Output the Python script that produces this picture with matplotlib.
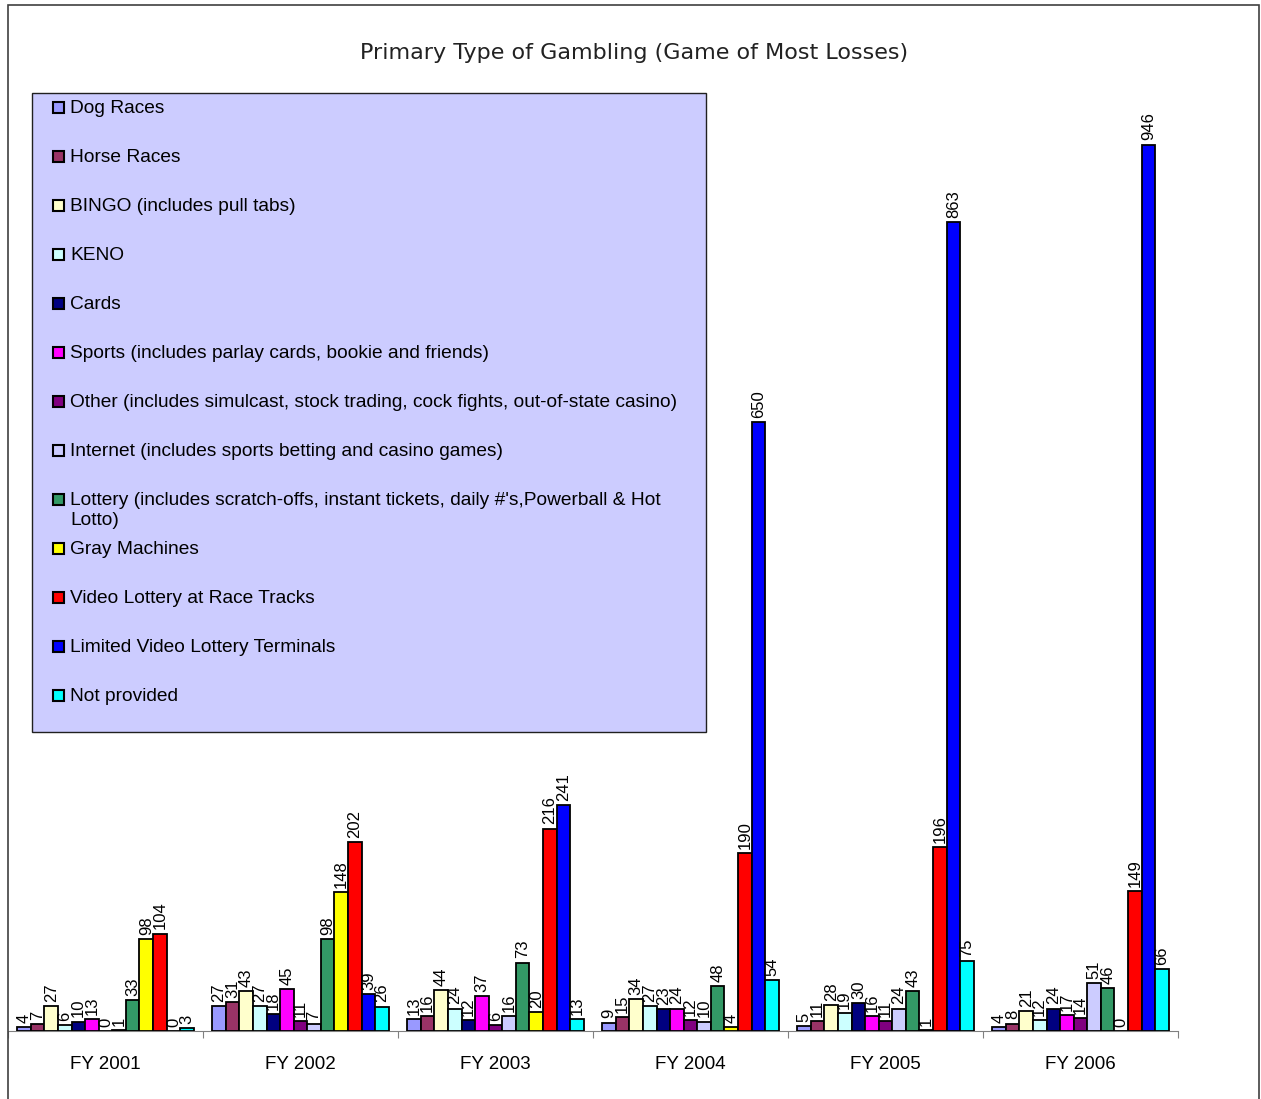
import matplotlib
matplotlib.use("Agg")
import matplotlib.pyplot as plt
from matplotlib.patches import Rectangle

W, H = 1261, 1099

years = ["FY 2001", "FY 2002", "FY 2003", "FY 2004", "FY 2005", "FY 2006"]
categories = [
    "Dog Races",
    "Horse Races",
    "BINGO (includes pull tabs)",
    "KENO",
    "Cards",
    "Sports (includes parlay cards, bookie and friends)",
    "Other (includes simulcast, stock trading, cock fights, out-of-state casino)",
    "Internet (includes sports betting and casino games)",
    "Lottery (includes scratch-offs, instant tickets, daily #'s,Powerball & Hot\nLotto)",
    "Gray Machines",
    "Video Lottery at Race Tracks",
    "Limited Video Lottery Terminals",
    "Not provided",
]
colors = ["#9999FF", "#993366", "#FFFFCC", "#CCFFFF", "#000080", "#FF00FF",
          "#800080", "#CCCCFF", "#339966", "#FFFF00", "#FF0000", "#0000FF",
          "#00FFFF"]

# values per category, one per fiscal year
dog_races = [4, 27, 13, 9, 5, 4]
horse_races = [7, 31, 16, 15, 11, 8]
bingo = [27, 43, 44, 34, 28, 21]
keno = [6, 27, 24, 27, 19, 12]
cards = [10, 18, 12, 23, 30, 24]
sports = [13, 45, 37, 24, 16, 17]
other = [0, 11, 6, 12, 11, 14]
internet = [1, 7, 16, 10, 24, 51]
lottery = [33, 98, 73, 48, 43, 46]
gray_machines = [98, 148, 20, 4, 1, 0]
vl_race_tracks = [104, 202, 216, 190, 196, 149]
limited_vlt = [0, 39, 241, 650, 863, 946]
not_provided = [3, 26, 13, 54, 75, 66]

series = [dog_races, horse_races, bingo, keno, cards, sports, other, internet,
          lottery, gray_machines, vl_race_tracks, limited_vlt, not_provided]

fig = plt.figure(figsize=(W / 100, H / 100), dpi=100)


def px(x, y):
    return x / W, 1 - y / H


# axes: x 8..1178 px, baseline at y=1031, value 1000 at y~94
left, bottom = px(8, 1031)
right, top = px(1178, 94)
ax = fig.add_axes([left, bottom, right - left, top - bottom])

n = len(series)
bw = 0.0697
pad = (1 - n * bw) / 2
for j, (vals, col) in enumerate(zip(series, colors)):
    xs = [i + pad + j * bw + bw / 2 for i in range(len(years))]
    ax.bar(xs, vals, width=bw, color=col, edgecolor="black",
           linewidth=1.3, zorder=3)
    for x, v in zip(xs, vals):
        ax.annotate(str(v), (x, v), xytext=(0, 3), textcoords="offset points",
                    rotation=90, ha="center", va="bottom", fontsize=12,
                    family="Liberation Sans")

ax.set_xlim(0, len(years))
ax.set_ylim(0, 1000)
ax.set_yticks([])
for s in ["left", "top", "right"]:
    ax.spines[s].set_visible(False)
ax.spines["bottom"].set_color("#808080")
ax.set_xticks(range(len(years) + 1))
ax.set_xticklabels([])
ax.tick_params(axis="x", which="major", direction="out", length=5,
               color="#808080")
ax.set_xticks([i + 0.5 for i in range(len(years))], minor=True)
ax.set_xticklabels(years, minor=True, fontsize=13.5, family="Liberation Sans")
ax.tick_params(axis="x", which="minor", length=0, pad=18)
ax.patch.set_visible(False)

# title
tx, ty = px(634, 53)
fig.text(tx, ty, "Primary Type of Gambling (Game of Most Losses)",
         ha="center", va="center", fontsize=16, family="DejaVu Sans",
         color="#222222")

# outer border
bx, by = px(8, 1110)
bx2, by2 = px(1259, 5)
fig.patches.append(Rectangle((bx, by), bx2 - bx, by2 - by, transform=fig.transFigure,
                             facecolor="none", edgecolor="#404040", linewidth=1.2))

# legend box
lx, ly = px(32, 732)
lx2, ly2 = px(706, 93)
fig.patches.append(Rectangle((lx, ly), lx2 - lx, ly2 - ly, transform=fig.transFigure,
                             facecolor="#CCCCFF", edgecolor="#202020", linewidth=1.0))
for k, (lab, col) in enumerate(zip(categories, colors)):
    yc = 108 + 49 * k
    mx, my = px(53, yc + 5)
    fig.patches.append(Rectangle((mx, my), 11 / W, 11 / H, transform=fig.transFigure,
                                 facecolor=col, edgecolor="black", linewidth=1.5))
    tx, ty = px(70, yc - 8)
    fig.text(tx, ty, lab, ha="left", va="top", fontsize=13.8,
             family="Liberation Sans", linespacing=1.25)

fig.savefig("out.png", dpi=100)
